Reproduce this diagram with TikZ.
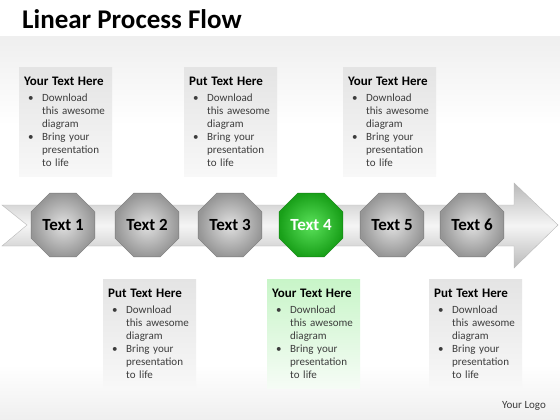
\documentclass[tikz,border=0pt]{standalone}
\usepackage{fontspec}
\setmainfont{Carlito}
\usetikzlibrary{shapes.geometric}

\definecolor{bggray}{RGB}{239,239,239}
\definecolor{boxtop}{RGB}{228,228,228}
\definecolor{boxbot}{RGB}{248,248,248}
\definecolor{greentop}{RGB}{200,245,200}
\definecolor{greenbot}{RGB}{246,252,246}
\definecolor{octin}{RGB}{225,225,225}
\definecolor{octout}{RGB}{150,150,150}
\definecolor{octedge}{RGB}{120,120,120}
\definecolor{grnin}{RGB}{90,225,90}
\definecolor{grnout}{RGB}{25,160,25}
\definecolor{grnedge}{RGB}{20,130,20}
\definecolor{bandedge}{RGB}{185,185,185}
\definecolor{bandmid}{RGB}{245,245,245}
\definecolor{txtgray}{RGB}{60,60,60}

\tikzset{
  octnode/.style={regular polygon, regular polygon sides=8, minimum size=69pt,
    inner sep=0pt, draw=octedge, inner color=octin, outer color=octout,
    font=\bfseries\fontsize{17}{19}\selectfont},
  greenoct/.style={octnode, draw=grnedge, inner color=grnin, outer color=grnout,
    text=white},
  infobox/.style={anchor=north west, align=left, text width=83pt,
    inner xsep=5pt, inner ysep=10pt, top color=boxtop, bottom color=boxbot,
    font=\fontsize{11}{13}\selectfont, text=txtgray},
  greenbox/.style={infobox, top color=greentop, bottom color=greenbot}
}

\newcommand{\infotext}[1]{%
  {\bfseries\fontsize{13}{16}\selectfont\color{black}#1}\\[3pt]
  \hspace*{4pt}\makebox[14pt][l]{\textbullet}Download\\
  \hspace*{18pt}this awesome\\
  \hspace*{18pt}diagram\\
  \hspace*{4pt}\makebox[14pt][l]{\textbullet}Bring your\\
  \hspace*{18pt}presentation\\
  \hspace*{18pt}to life}

\begin{document}
\begin{tikzpicture}[x=1pt,y=-1pt]
\useasboundingbox (0,0) rectangle (560,420);

% background
\fill[white] (0,0) rectangle (560,420);
\shade[top color=bggray, bottom color=white] (0,37) rectangle (560,125);
\shade[top color=white, bottom color=bggray] (0,365) rectangle (560,420);

% title
\node[anchor=base west, font=\bfseries\fontsize{27}{31}\selectfont, inner sep=0pt]
  (title) at (22,29) {Linear Process Flow};

% big arrow
\shade[top color=bandedge, bottom color=bandedge, middle color=bandmid, draw=bandedge]
  (2,205) -- (514,205) -- (514,183) -- (558,225) -- (514,268) -- (514,246)
  -- (2,246) -- (27,225) -- cycle;

% octagons
\node[octnode] (oct1) at (63,225) {Text 1};
\node[octnode] (oct2) at (147,225) {Text 2};
\node[octnode] (oct3) at (230,225) {Text 3};
\node[greenoct] (oct4) at (311,225) {Text 4};
\node[octnode] (oct5) at (392,225) {Text 5};
\node[octnode] (oct6) at (472,225) {Text 6};

% text boxes
\node[infobox] (info1) at (19,67) {\infotext{Your Text Here}};
\node[infobox] (info3) at (184,67) {\infotext{Put Text Here}};
\node[infobox] (info5) at (343,67) {\infotext{Your Text Here}};
\node[infobox] (info2) at (103,279) {\infotext{Put Text Here}};
\node[greenbox] (info4) at (267,279) {\infotext{Your Text Here}};
\node[infobox] (info6) at (429,279) {\infotext{Put Text Here}};

\node[font=\fontsize{11}{13}\selectfont, text=txtgray] (logo) at (524,406) {Your Logo};
\end{tikzpicture}
\end{document}
